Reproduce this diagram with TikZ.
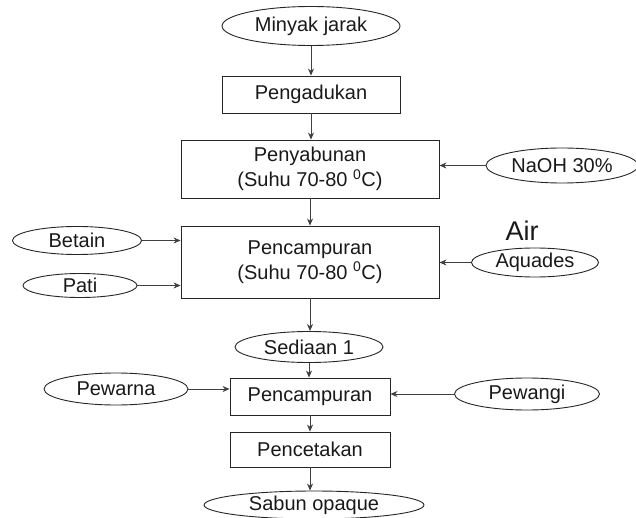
\documentclass[tikz,border=0pt]{standalone}
\usepackage{fontspec}
\setmainfont{Liberation Sans}
\usetikzlibrary{shapes.geometric,arrows.meta}
\begin{document}
\begin{tikzpicture}[x=1pt,y=1pt,
  every node/.style={font=\fontsize{20}{25}\selectfont, text=black!90},
  oval/.style={ellipse, draw=black!85, line width=0.9pt, inner sep=0pt},
  stepbox/.style={rectangle, draw=black!85, line width=0.9pt, inner sep=0pt, align=center},
  flow/.style={draw=black!75, line width=0.7pt, -{Stealth[length=7pt,width=6pt]}}
]
\useasboundingbox (0,0) rectangle (636,-518);

% main column
\node[oval, minimum width=178, minimum height=39] (minyak) at (311,-26) {Minyak jarak};
\node[stepbox, minimum width=178, minimum height=37] (aduk) at (311,-94.5) {Pengadukan};
\node[stepbox, minimum width=258, minimum height=58] (sabun1) at (310,-169) {Penyabunan\\(Suhu 70-80 \textsuperscript{0}C)};
\node[stepbox, minimum width=258, minimum height=72] (campur1) at (310,-262) {Pencampuran\\(Suhu 70-80 \textsuperscript{0}C)};
\node[oval, minimum width=148, minimum height=31] (sediaan) at (309,-347) {Sediaan 1};
\node[stepbox, minimum width=160, minimum height=37] (campur2) at (310,-396.5) {Pencampuran};
\node[stepbox, minimum width=160, minimum height=35] (cetak) at (310,-449.5) {Pencetakan};
\node[oval, minimum width=220, minimum height=28] (opaque) at (314,-505) {Sabun opaque};

% side inputs
\node[oval, minimum width=152, minimum height=35] (naoh) at (562,-165.5) {NaOH 30\%};
\node[oval, minimum width=129, minimum height=28] (betain) at (77,-240.5) {Betain};
\node[oval, minimum width=114, minimum height=24] (pati) at (80,-285.5) {Pati};
\node[oval, minimum width=127, minimum height=29] (aquades) at (535,-262.5) {Aquades};
\node[font=\fontsize{27}{30}\selectfont] (air) at (522,-231) {Air};
\node[oval, minimum width=144, minimum height=32] (pewarna) at (116,-389) {Pewarna};
\node[oval, minimum width=145, minimum height=32] (pewangi) at (527,-394) {Pewangi};

% vertical flow
\draw[flow] (minyak.south) -- (minyak.south |- aduk.north);
\draw[flow] (aduk.south) -- (aduk.south |- sabun1.north);
\draw[flow] (sabun1.south) -- (sabun1.south |- campur1.north);
\draw[flow] (campur1.south) -- (campur1.south |- sediaan.north);
\draw[flow] (sediaan.south) -- (sediaan.south |- campur2.north);
\draw[flow] (campur2.south) -- (campur2.south |- cetak.north);
\draw[flow] (cetak.south) -- (cetak.south |- opaque.north);

% horizontal flow
\draw[flow] (naoh.west) -- (naoh.west -| sabun1.east);
\draw[flow] (betain.east) -- (betain.east -| campur1.west);
\draw[flow] (pati.east) -- (pati.east -| campur1.west);
\draw[flow] (aquades.west) -- (aquades.west -| campur1.east);
\draw[flow] (pewarna.east) -- (pewarna.east -| campur2.west);
\draw[flow] (pewangi.west) -- (pewangi.west -| campur2.east);
\end{tikzpicture}
\end{document}
